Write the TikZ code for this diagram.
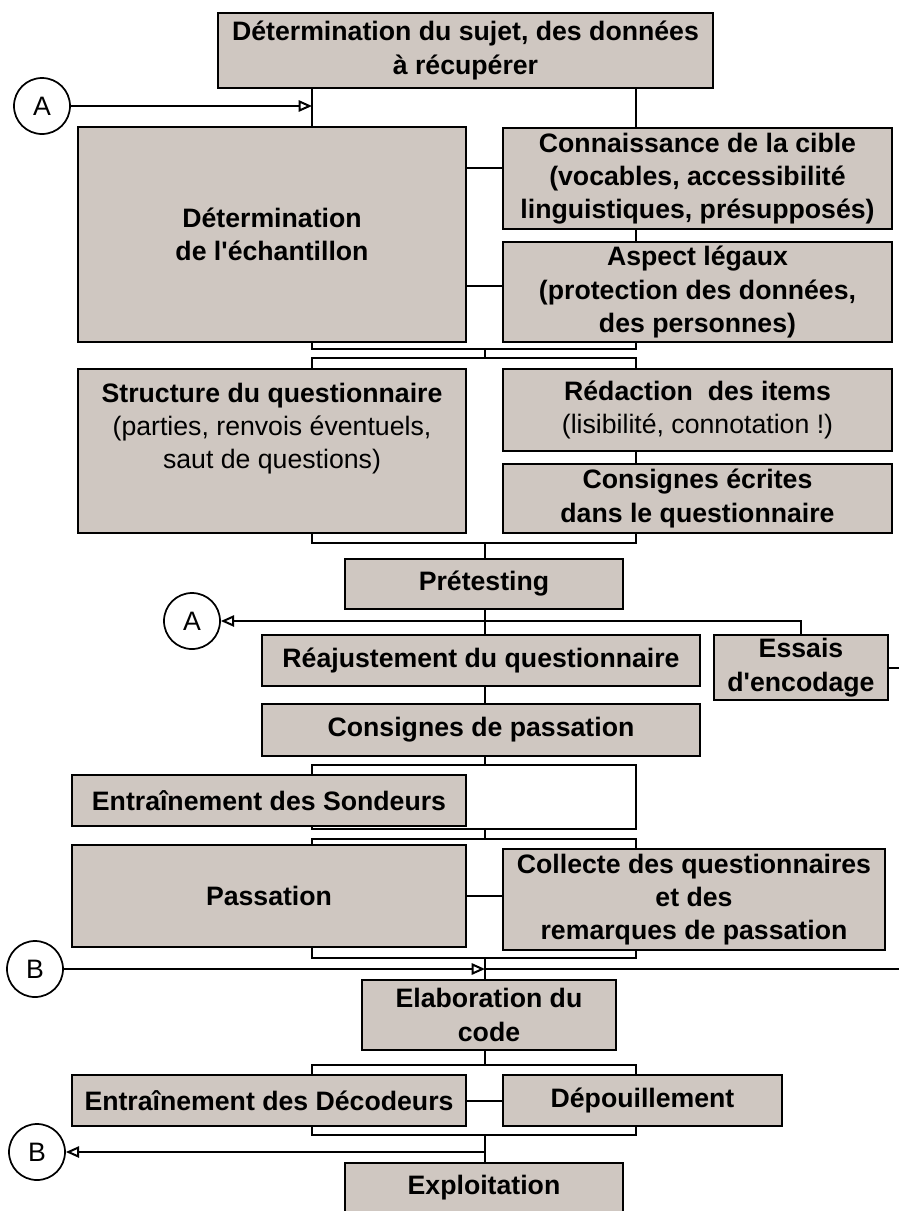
\documentclass[tikz,border=0pt]{standalone}
\usepackage{fontspec}
\setmainfont{Liberation Sans}
\usetikzlibrary{arrows.meta,calc}

\definecolor{boxfill}{RGB}{207,199,193}
\newcommand{\chartfont}{\fontsize{20}{25}\selectfont}

\tikzset{every picture/.style={line width=1.5pt},
  box/.style={draw=black, fill=boxfill, line width=1.9pt, inner sep=0pt, align=center, font=\chartfont\bfseries},
  ring/.style={draw=black, circle, fill=white, line width=1.3pt, minimum size=42pt, inner sep=0pt, font=\chartfont},
  arr/.style={-{Triangle[open,length=10pt,width=8.5pt]}}}

\begin{document}
\begin{tikzpicture}[x=0.75pt,y=0.75pt,yscale=-1,xscale=1]
\useasboundingbox (0,0) rectangle (899,1211);

%bus columns and rows
\coordinate (xl) at (312,0);
\coordinate (xm) at (485,0);
\coordinate (xr) at (636,0);
\coordinate (rx) at (915,0);
\coordinate (b1) at (485,349);
\coordinate (b2) at (485,358);
\coordinate (b3) at (485,543);
\coordinate (b4) at (485,765);
\coordinate (b5) at (485,829);
\coordinate (b6) at (485,839);
\coordinate (b7) at (485,958);
\coordinate (b8) at (485,1065);
\coordinate (b9) at (485,1135);

%Boxes
\node[box, minimum width=371.25pt, minimum height=56.25pt] (top) at (465.5,50.5) {Détermination du sujet, des données\\à récupérer};
\node[box, minimum width=291pt, minimum height=161.25pt] (echant) at (272,234.5) {Détermination\\de l\textquotesingle échantillon};
\node[box, minimum width=291.75pt, minimum height=75.75pt] (cible) at (697.5,178.5) {Connaissance de la cible\\(vocables, accessibilité\\linguistiques, présupposés)};
\node[box, minimum width=291.75pt, minimum height=75pt] (legal) at (697.5,292) {Aspect légaux\\(protection des données,\\des personnes)};
\node[box, minimum width=291pt, minimum height=123pt] (strct) at (272,451) {};
\node[box, minimum width=291.75pt, minimum height=61.5pt] (redac) at (697.5,410) {Rédaction~~des items\\\mdseries(lisibilité, connotation !)};
\node[box, minimum width=291.75pt, minimum height=51.75pt] (consecr) at (697.5,498.5) {Consignes écrites\\dans le questionnaire};
\node[box, minimum width=208.5pt, minimum height=37.5pt] (pretest) at (484,584) {Prétesting};
\node[box, minimum width=328.5pt, minimum height=38.25pt] (reaj) at (481,660.5) {Réajustement du questionnaire};
\node[box, minimum width=130.5pt, minimum height=48.75pt] (essais) at (801,667.5) {Essais\\d\textquotesingle encodage};
\node[box, minimum width=328.5pt, minimum height=39pt] (conspass) at (481,730) {Consignes de passation};
\node[box, minimum width=295.5pt, minimum height=38.25pt] (sond) at (269,800.5) {Entraînement des Sondeurs};
\node[box, minimum width=295.5pt, minimum height=76.5pt] (passa) at (269,896) {Passation};
\node[box, minimum width=286.5pt, minimum height=75.75pt] (collecte) at (694,899.5) {Collecte des questionnaires\\et des\\remarques de passation};
\node[box, minimum width=190.5pt, minimum height=52.5pt] (elab) at (489,1015) {Elaboration du\\code};
\node[box, minimum width=295.5pt, minimum height=38.25pt] (decod) at (269,1100.5) {Entraînement des Décodeurs};
\node[box, minimum width=209.25pt, minimum height=38.25pt] (depouil) at (642.5,1100.5) {Dépouillement};
\node[box, minimum width=208.5pt, minimum height=37.5pt] (exploit) at (484,1188) {Exploitation};

% Text Node
\node[anchor=north, align=center, inner sep=0pt, font=\chartfont] (strtxt) at ($(strct.north)+(0,14)$) {\textbf{Structure du questionnaire}\\(parties, renvois éventuels,\\saut de questions)};

%Circles
\node[ring] (A1) at (42,106) {A};
\node[ring] (A2) at (192,621) {A};
\node[ring] (B1) at (35,969) {B};
\node[ring] (B2) at (37,1152) {B};

\coordinate (c1) at ($(cible.west)+(0,-10.5)$);
\coordinate (c2) at ($(legal.west)+(0,-6)$);

%Straight Lines
\draw[arr] (A1) -- (A1 -| xl);
\draw (xl |- top.south) -- (xl |- echant.north);
\draw (xr |- top.south) -- (xr |- cible.north);
\draw (c1 -| echant.east) -- (c1);
\draw (xr |- cible.south) -- (xr |- legal.north);
\draw (c2 -| echant.east) -- (c2);
\draw (xl |- echant.south) -- (xl |- b1) -- (xr |- b1) -- (xr |- legal.south);
\draw (b1) -- (b2);
\draw (xl |- strct.north) -- (xl |- b2) -- (xr |- b2) -- (xr |- redac.north);
\draw (xr |- redac.south) -- (xr |- consecr.north);
\draw (xl |- strct.south) -- (xl |- b3) -- (xr |- b3) -- (xr |- consecr.south);
\draw (b3) -- (b3 |- pretest.north);
\draw (xm |- pretest.south) -- (xm |- reaj.north);
\draw[arr] (essais.north) -- (essais.north |- A2) -- (A2);
\draw (essais.east) -- (essais.east -| rx) -- (rx |- B1) -- (B1 -| xm);
\draw[arr] (B1) -- (B1 -| xm);
\draw (xm |- reaj.south) -- (xm |- conspass.north);
\draw (xm |- conspass.south) -- (b4);
\draw (xl |- sond.north) -- (xl |- b4) -- (xr |- b4) -- (xr |- b5) -- (xl |- b5) -- (xl |- sond.south);
\draw (b5) -- (b6);
\draw (xl |- passa.north) -- (xl |- b6) -- (xr |- b6) -- (xr |- collecte.north);
\draw (passa.east) -- (passa.east -| collecte.west);
\draw (xl |- passa.south) -- (xl |- b7) -- (xr |- b7) -- (xr |- collecte.south);
\draw (b7) -- (b7 |- elab.north);
\draw (xm |- elab.south) -- (b8);
\draw (xl |- decod.north) -- (xl |- b8) -- (xr |- b8) -- (xr |- depouil.north);
\draw (decod.east) -- (depouil.west);
\draw (xl |- decod.south) -- (xl |- b9) -- (xr |- b9) -- (xr |- depouil.south);
\draw (b9) -- (b9 |- exploit.north);
\draw[arr] (B2 -| xm) -- (B2);
\end{tikzpicture}
\end{document}
